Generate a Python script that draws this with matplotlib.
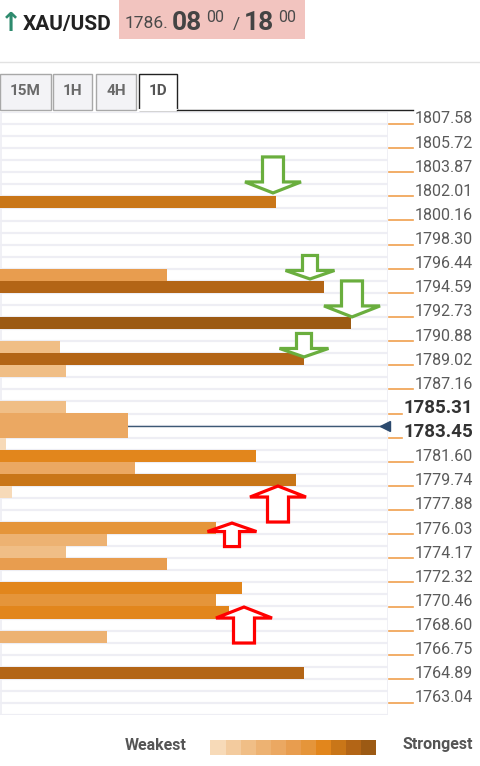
import matplotlib
matplotlib.use("Agg")
import matplotlib.pyplot as plt
from matplotlib.patches import Rectangle, Polygon
from matplotlib.lines import Line2D
from matplotlib.transforms import blended_transform_factory

W, H = 481, 766

# price ladder shown on the right
tick_prices = [1807.58, 1805.72, 1803.87, 1802.01, 1800.16, 1798.30, 1796.44,
               1794.59, 1792.73, 1790.88, 1789.02, 1787.16, 1785.31, 1783.45,
               1781.60, 1779.74, 1777.88, 1776.03, 1774.17, 1772.32, 1770.46,
               1768.60, 1766.75, 1764.89, 1763.04]
bold_prices = [1785.31, 1783.45]

# confluence levels (row centre price), bar length score, strength 1..11
bar_levels = [1801.55, 1795.98, 1795.05, 1792.27, 1790.41, 1789.49, 1788.56,
              1785.77, 1784.85, 1783.92, 1782.99, 1782.06, 1781.13, 1780.21,
              1779.28, 1776.49, 1775.57, 1774.64, 1773.71, 1771.85, 1770.93,
              1770.00, 1768.14, 1765.36]
bar_scores = [276, 167, 324, 351, 60, 304, 66,
              66, 128, 128, 6, 256, 135, 296,
              12, 216, 107, 66, 167, 242, 216,
              229, 107, 304]
bar_strength = [9, 6, 10, 11, 3, 10, 3,
                3, 5, 5, 1, 8, 5, 9,
                1, 7, 4, 3, 6, 8, 7,
                8, 4, 10]

strength_colors = ["#F7DAB8", "#F3CB9E", "#F0BE86", "#EDB272", "#EBA862",
                   "#E89D4F", "#E5953A", "#E2861C", "#C97618", "#B36516",
                   "#9C5A14"]

current_price = 1784.38

# resistance / support markers: tip score, tip price, direction, big
arrow_x = [273, 310, 352, 304, 278, 232, 244]
arrow_y = [1802.28, 1795.66, 1792.74, 1789.66, 1779.73, 1776.88, 1770.42]
arrow_dir = ["down", "down", "down", "down", "up", "up", "up"]
arrow_big = [True, False, True, False, True, False, True]

timeframes = ["15M", "1H", "4H", "1D"]

plt.rcParams["font.family"] = ["Roboto", "DejaVu Sans"]

fig = plt.figure(figsize=(W / 100, H / 100), dpi=100)


def px(x, y):
    return x / W, 1 - y / H


# ---- header ----
fig.text(*px(0, 31), "\u2191", fontsize=19, color="#2E8B6E", fontweight="bold",
         family="DejaVu Sans", va="baseline")
fig.text(*px(23, 30), "XAU/USD", fontsize=15, color="#222222", fontweight="bold", va="baseline")
fig.add_artist(Rectangle(px(119, 39), 186 / W, 39 / H, transform=fig.transFigure,
                         facecolor="#F2C4BF", edgecolor="none"))
fig.text(*px(125, 28.5), "1786.", fontsize=12.5, color="#4A4A4A", va="baseline")
fig.text(*px(172, 29.5), "08", fontsize=19, color="#444444", fontweight="bold", va="baseline")
fig.text(*px(206, 22), "00", fontsize=11.5, color="#4A4A4A", va="baseline")
fig.text(*px(233, 29.5), "/", fontsize=12.5, color="#4A4A4A", va="baseline")
fig.text(*px(244, 29.5), "18", fontsize=19, color="#444444", fontweight="bold", va="baseline")
fig.text(*px(278, 22), "00", fontsize=11.5, color="#4A4A4A", va="baseline")

fig.add_artist(Line2D([0, 1], [1 - 62 / H] * 2, transform=fig.transFigure,
                      color="#E2E2E2", lw=1))

# ---- timeframe tabs ----
tab_edges = [(0, 51), (53, 92), (96, 136), (139, 177)]
for name, (x0, x1) in zip(timeframes, tab_edges):
    sel = name == "1D"
    fig.add_artist(Rectangle(px(x0, 110), (x1 - x0) / W, 36 / H, transform=fig.transFigure,
                             facecolor="white" if sel else "#F3F3F6",
                             edgecolor="#222222" if sel else "#A8A8A8", lw=1))
    fig.text(*px((x0 + x1) / 2, 91), name, fontsize=11, color="#555555" if sel else "#6A6A6A",
             fontweight="bold", ha="center", va="center")
fig.add_artist(Line2D([139 / W, 177 / W], [1 - 110 / H] * 2, transform=fig.transFigure,
                      color="white", lw=1.5))
fig.add_artist(Line2D([177 / W, 413 / W], [1 - 110 / H] * 2, transform=fig.transFigure,
                      color="#222222", lw=1))

# ---- confluence ladder ----
top_px, bot_px, right_px = 112, 715, 388
ax = fig.add_axes([0, 1 - bot_px / H, right_px / W, (bot_px - top_px) / H])

row = (tick_prices[0] - tick_prices[-1]) / 48
ymax = tick_prices[0] + row
ymin = tick_prices[-1] - row
nrows = 50
row_px = (bot_px - top_px) / nrows
dy = row / row_px  # price per pixel

ax.set_xlim(0, right_px)
ax.set_ylim(ymin, ymax)
ax.axis("off")

for i in range(nrows + 1):
    ax.axhline(ymax - i * row, color="#EEEEF4", lw=1.6, zorder=0)
ax.axvline(0.5, color="#EEEEF4", lw=1.2, zorder=0)
ax.axvline(right_px - 0.5, color="#EEEEF4", lw=1.2, zorder=0)

ax.plot([0, 385], [current_price, current_price], color="#3D5875", lw=1, zorder=1)
ax.plot([385], [current_price], marker="<", color="#2C4A6E", markersize=7,
        clip_on=False, zorder=4)

ax.barh(bar_levels, bar_scores, height=row, left=0,
        color=[strength_colors[s - 1] for s in bar_strength], edgecolor="none", zorder=2)


def draw_arrow(x, y, direction, big):
    hw, hh, sw, sl = (28, 11, 10.5, 25) if big else (24.5, 8.5, 7.5, 15)
    sgn = 1 if direction == "down" else -1
    pts = [(0, 0), (hw, hh), (sw, hh), (sw, hh + sl), (-sw, hh + sl), (-sw, hh), (-hw, hh)]
    pts = [(x + a, y + sgn * b * dy) for a, b in pts]
    col = "#6AAE3E" if direction == "down" else "#FF0000"
    ax.add_patch(Polygon(pts, closed=True, facecolor="white", edgecolor=col, lw=2.3,
                         joinstyle="miter", zorder=3, clip_on=False))


for x, y, d, b in zip(arrow_x, arrow_y, arrow_dir, arrow_big):
    draw_arrow(x, y, d, b)

# price labels with short orange ticks
tr = blended_transform_factory(fig.transFigure, ax.transData)
for p in tick_prices:
    bold = p in bold_prices
    x_end = 402 if bold else 413
    ax.add_line(Line2D([389 / W, x_end / W], [p, p], transform=tr, color="#F0A04E",
                       lw=1.2, clip_on=False))
    ax.text(473 / W, p + 0.6 * dy, f"{p:.2f}", transform=tr, ha="right", va="baseline",
            fontsize=13.5 if bold else 11.5, fontweight="bold" if bold else "normal",
            color="#333333" if bold else "#5A5A5A", clip_on=False)

# ---- legend ----
fig.text(*px(186, 745), "Weakest", fontsize=11.5, color="#555555", fontweight="bold",
         ha="right", va="center")
fig.text(*px(473, 745), "Strongest", fontsize=11.5, color="#555555", fontweight="bold",
         ha="right", va="center")
cell = (376.5 - 210.5) / len(strength_colors)
for i, c in enumerate(strength_colors):
    fig.add_artist(Rectangle(px(210.5 + i * cell, 755), cell / W, 15 / H,
                             transform=fig.transFigure, facecolor=c, edgecolor="none"))

fig.savefig("out.png", dpi=100)
